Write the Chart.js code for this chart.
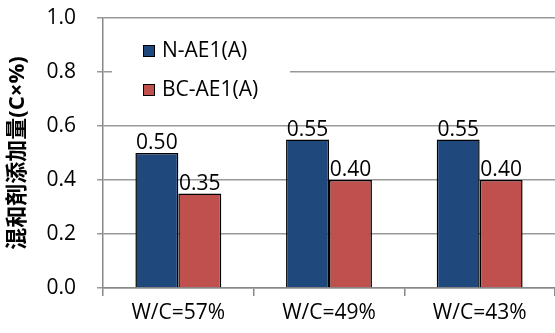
<!DOCTYPE html>
<html>
<head>
<meta charset="utf-8">
<script src="https://cdn.jsdelivr.net/npm/chart.js@4.4.1/dist/chart.umd.min.js"></script>
<style>
  html, body { margin: 0; padding: 0; background: #fff; }
  #wrap { width: 555px; height: 333px; position: relative; }
</style>
</head>
<body>
<div id="wrap"><canvas id="c" width="555" height="333"></canvas></div>
<script>
const categories = ['W/C=57%', 'W/C=49%', 'W/C=43%'];
const seriesNames = ['N-AE1(A)', 'BC-AE1(A)'];
const nValues = [0.50, 0.55, 0.55];
const bcValues = [0.35, 0.40, 0.40];
const yTicks = [0.0, 0.2, 0.4, 0.6, 0.8, 1.0];
const yTitle = '混和剤添加量(C×%)';

const FONT = "'Open Sans', 'Noto Sans', sans-serif";
const FONT_SIZE = 21;

// Value labels above each bar
const valueLabels = {
  id: 'valueLabels',
  afterDatasetsDraw(chart) {
    const ctx = chart.ctx;
    ctx.save();
    ctx.font = FONT_SIZE + 'px ' + FONT;
    ctx.fillStyle = '#000';
    ctx.textAlign = 'center';
    ctx.textBaseline = 'bottom';
    chart.data.datasets.forEach((ds, i) => {
      chart.getDatasetMeta(i).data.forEach((bar, j) => {
        ctx.fillText(ds.data[j].toFixed(2), bar.x, bar.y + 1);
      });
    });
    ctx.restore();
  }
};

// Legend box inside the plot area, top-left
const boxLegend = {
  id: 'boxLegend',
  afterDraw(chart) {
    const ctx = chart.ctx;
    const a = chart.chartArea;
    ctx.save();
    ctx.fillStyle = '#fff';
    ctx.fillRect(a.left + 9, a.top + 14, 178, 90);
    ctx.font = FONT_SIZE + 'px ' + FONT;
    ctx.textBaseline = 'middle';
    ctx.textAlign = 'left';
    chart.data.datasets.forEach((ds, i) => {
      const y = a.top + 33 + i * 39;
      const x = a.left + 40;
      ctx.fillStyle = ds.backgroundColor;
      ctx.fillRect(x, y - 6, 12, 12);
      ctx.strokeStyle = '#000';
      ctx.lineWidth = 1;
      ctx.strokeRect(x + 0.5, y - 5.5, 11, 11);
      ctx.fillStyle = '#000';
      ctx.fillText(ds.label, x + 19, y);
    });
    ctx.restore();
  }
};

new Chart(document.getElementById('c'), {
  type: 'bar',
  data: {
    labels: categories,
    datasets: [
      { label: seriesNames[0], data: nValues, backgroundColor: '#1F497D', borderColor: '#000', borderWidth: 1.5 },
      { label: seriesNames[1], data: bcValues, backgroundColor: '#C0504D', borderColor: '#000', borderWidth: 1.5 }
    ]
  },
  options: {
    responsive: false,
    animation: false,
    devicePixelRatio: 1,
    layout: { padding: { top: 18, right: 0, left: 0, bottom: 0 } },
    plugins: { legend: { display: false }, tooltip: { enabled: false } },
    datasets: { bar: { categoryPercentage: 0.57, barPercentage: 1.0 } },
    scales: {
      x: {
        grid: { display: true, drawOnChartArea: false, offset: true, color: '#888', tickLength: 8, lineWidth: 1.5 },
        border: { color: '#888', width: 1.5 },
        ticks: { color: '#000', font: { family: FONT, size: FONT_SIZE }, padding: 4 },
        afterFit(scale) { scale.height = 45; scale.paddingLeft = 0; scale.paddingRight = 0; }
      },
      y: {
        min: 0, max: 1.0,
        afterBuildTicks(scale) { scale.ticks = yTicks.map(v => ({ value: v })); },
        grid: { color: '#999', tickLength: 6, lineWidth: 1.5 },
        border: { color: '#888', width: 1.5 },
        ticks: { color: '#000', font: { family: FONT, size: FONT_SIZE }, padding: 21, callback: v => Number(v).toFixed(1) },
        title: { display: true, text: yTitle, color: '#000', font: { family: "'Open Sans', 'Noto Sans CJK JP', sans-serif", size: 22, weight: 'bold' }, padding: { top: 5, bottom: 4 } },
        afterFit(scale) { scale.width = 103; scale.paddingTop = 0; scale.paddingBottom = 0; }
      }
    }
  },
  plugins: [valueLabels, boxLegend]
});
</script>
</body>
</html>
